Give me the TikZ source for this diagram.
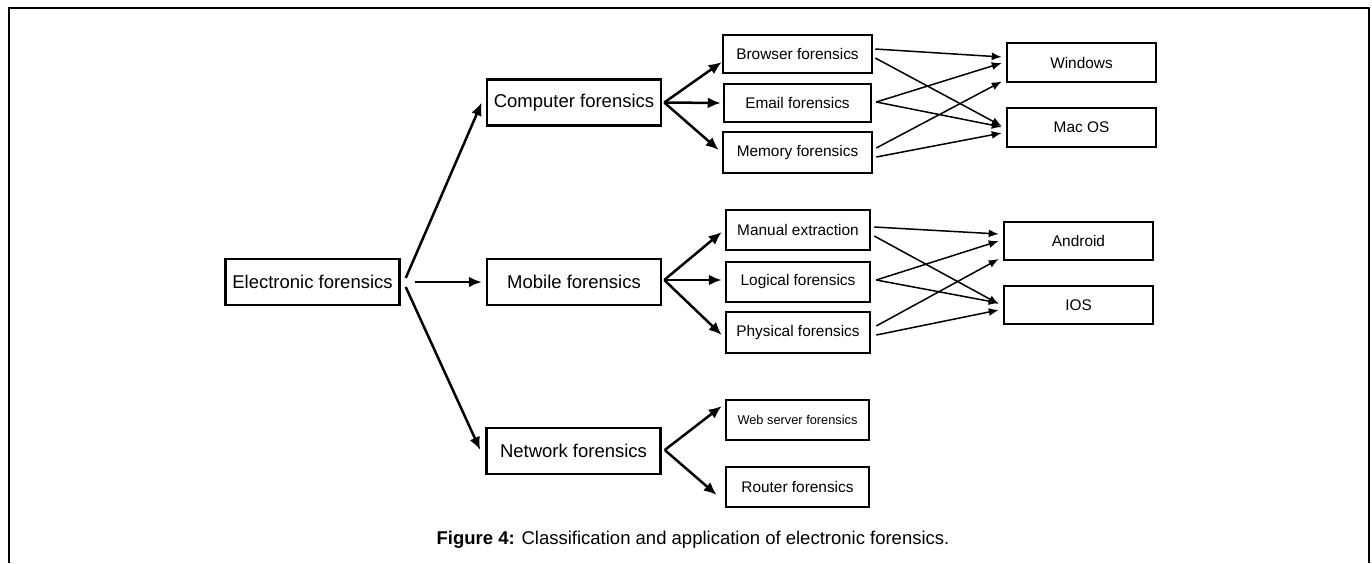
\documentclass[tikz,border=0pt]{standalone}
\usepackage{fontspec}
\setmainfont{Liberation Sans}
\usetikzlibrary{arrows.meta}
\begin{document}
\begin{tikzpicture}[x=1pt,y=-1pt,
  mainbox/.style={draw,line width=2.5pt,inner sep=0pt,minimum width=174pt,minimum height=46pt,font=\fontsize{18.5}{20}\selectfont},
  subbox/.style={draw,line width=2.5pt,inner sep=0pt,minimum width=146pt,minimum height=39pt,font=\fontsize{15.4}{17}\selectfont},
  osbox/.style={draw,line width=2.5pt,inner sep=0pt,minimum width=149pt,minimum height=39pt,font=\fontsize{15.4}{17}\selectfont},
  thickarrow/.style={line width=2.5pt,-{Latex[length=13pt,width=11pt]}},
  thinarrow/.style={line width=1.5pt,-{Latex[length=10pt,width=8pt]}},
  frameline/.style={line width=2pt}
]
\useasboundingbox (0,0) rectangle (1372,563);
\draw[frameline] (8.5,563) -- (8.5,7.5) -- (1368.5,7.5) -- (1368.5,563);

% level 0-1
\node[mainbox] (elec) at (312.5,282) {Electronic forensics};
\node[mainbox] (comp) at (574,102.5) {Computer forensics};
\node[mainbox] (mob) at (574,282) {Mobile forensics};
\node[mainbox] (net) at (573.5,451) {Network forensics};

% computer children
\node[subbox,minimum width=149pt,minimum height=38pt] (browser) at (797.5,54) {Browser forensics};
\node[subbox,minimum width=147pt,minimum height=38pt] (email) at (797.5,103) {Email forensics};
\node[subbox,minimum width=149pt,minimum height=41pt] (memory) at (797.5,152.5) {Memory forensics};
\node[osbox] (windows) at (1081.5,62.5) {Windows};
\node[osbox] (macos) at (1081.5,127.5) {Mac OS};

% mobile children
\node[subbox,minimum width=144pt,minimum height=40pt] (manual) at (798,230) {Manual extraction};
\node[subbox,minimum width=144pt,minimum height=40pt] (logical) at (798,282) {Logical forensics};
\node[subbox,minimum width=144pt,minimum height=41pt] (physical) at (798,332.5) {Physical forensics};
\node[osbox,minimum height=38pt] (android) at (1078.5,241) {Android};
\node[osbox,minimum height=38pt] (ios) at (1078.5,305) {IOS};

% network children
\node[subbox,minimum width=143pt,minimum height=40pt,font=\fontsize{12.8}{14}\selectfont] (web) at (797.5,420) {Web server forensics};
\node[subbox,minimum width=143pt,minimum height=40pt] (router) at (797.5,487) {Router forensics};

% caption
\node[inner sep=0pt,font=\fontsize{18.5}{20}\selectfont] (cap) at (693,540) {\textbf{Figure 4:} Classification and application of electronic forensics.};

% electronic -> level 1
\draw[thickarrow] ([xshift=5pt,yshift=4pt]elec.east) -- ([xshift=-4pt]comp.west);
\draw[thickarrow] ([xshift=14pt]elec.east) -- ([xshift=-4pt]mob.west);
\draw[thickarrow] ([xshift=5pt,yshift=-5pt]elec.east) -- ([xshift=-5pt,yshift=1pt]net.west);

% computer fan
\draw[thickarrow] ([xshift=2pt]comp.east) -- ([yshift=-8pt]browser.west);
\draw[thickarrow] ([xshift=2pt]comp.east) -- ([xshift=-2pt]email.west);
\draw[thickarrow] ([xshift=2pt]comp.east) -- ([xshift=-3pt,yshift=2.5pt]memory.west);

% mobile fan
\draw[thickarrow] ([xshift=2pt,yshift=2pt]mob.east) -- ([xshift=-3pt,yshift=-2pt]manual.west);
\draw[thickarrow] ([xshift=2pt,yshift=2pt]mob.east) -- ([xshift=-3pt,yshift=2pt]logical.west);
\draw[thickarrow] ([xshift=2pt,yshift=2pt]mob.east) -- ([xshift=-3pt,yshift=-2.5pt]physical.west);

% network fan
\draw[thickarrow] ([xshift=3pt,yshift=1pt]net.east) -- ([xshift=-3pt,yshift=14pt]web.west);
\draw[thickarrow] ([xshift=3pt,yshift=1pt]net.east) -- ([xshift=-8pt,yshift=-8pt]router.west);

% computer -> OS
\draw[thinarrow] ([xshift=2pt,yshift=5pt]browser.east) -- ([xshift=-4pt,yshift=5.5pt]windows.west);
\draw[thinarrow] ([xshift=2pt,yshift=-4pt]browser.east) -- ([xshift=-4pt,yshift=1.5pt]macos.west);
\draw[thinarrow] ([xshift=4pt,yshift=1pt]email.east) -- ([xshift=-4pt,yshift=-0.5pt]windows.west);
\draw[thinarrow] ([xshift=4pt,yshift=1pt]email.east) -- ([xshift=-4pt,yshift=0.5pt]macos.west);
\draw[thinarrow] ([xshift=3pt,yshift=4.5pt]memory.east) -- ([xshift=-4pt,yshift=-19pt]windows.west);
\draw[thinarrow] ([xshift=3pt,yshift=-4.5pt]memory.east) -- ([xshift=-4pt,yshift=-5.5pt]macos.west);

% mobile -> OS
\draw[thinarrow] ([xshift=3pt,yshift=3pt]manual.east) -- ([xshift=-4pt,yshift=7pt]android.west);
\draw[thinarrow] ([xshift=3pt,yshift=-6pt]manual.east) -- ([xshift=-4pt,yshift=1pt]ios.west);
\draw[thinarrow] ([xshift=5pt,yshift=2pt]logical.east) -- ([xshift=-4pt]android.west);
\draw[thinarrow] ([xshift=5pt,yshift=2pt]logical.east) -- ([xshift=-4pt,yshift=2pt]ios.west);
\draw[thinarrow] ([xshift=5pt,yshift=6.5pt]physical.east) -- ([xshift=-4pt,yshift=-18pt]android.west);
\draw[thinarrow] ([xshift=5pt,yshift=-2.5pt]physical.east) -- ([xshift=-4pt,yshift=-5pt]ios.west);
\end{tikzpicture}
\end{document}
